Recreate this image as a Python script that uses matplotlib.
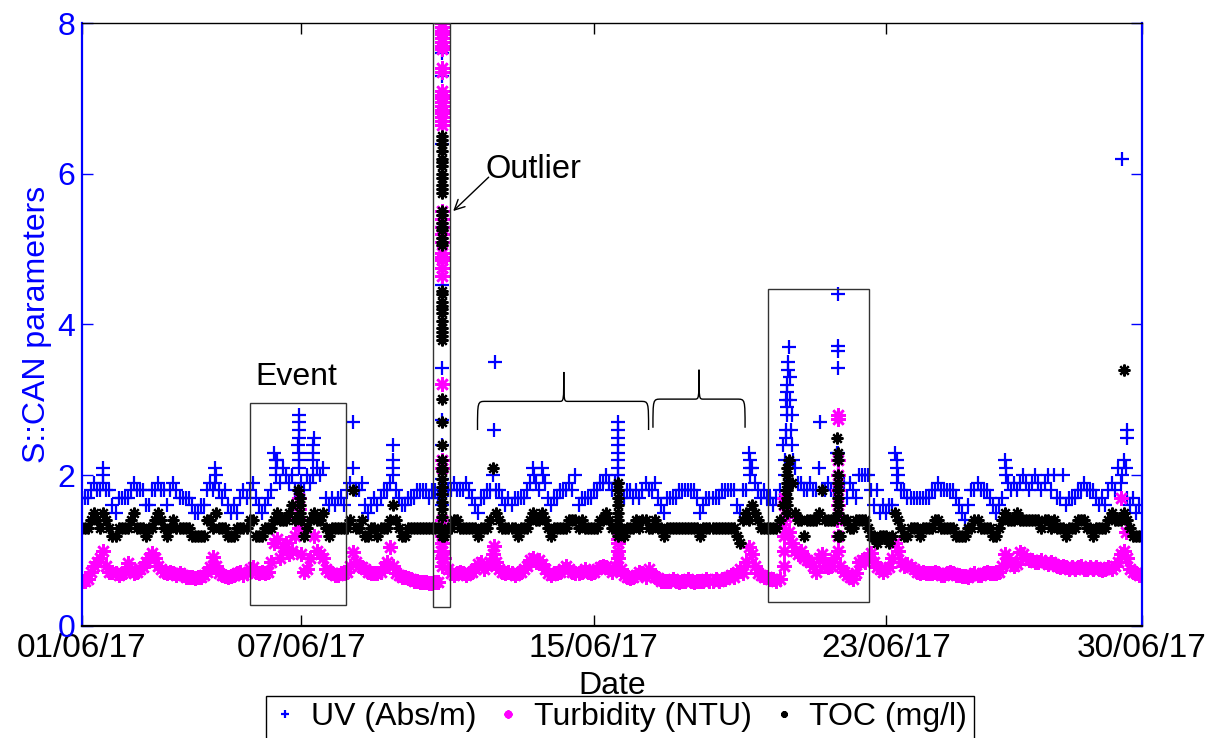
import numpy as np
import matplotlib
matplotlib.use('Agg')
import matplotlib.pyplot as plt
from matplotlib.path import Path
from matplotlib.patches import PathPatch, Rectangle

plt.rcParams['font.family'] = ['Liberation Sans', 'DejaVu Sans']

# samples every 2 hours from 01/06/17 00:00 (12 per day, one day per row)
samples_per_day = 12

uv = [
    1.7, 1.7, 1.7, 1.8, 1.9, 1.8, 1.8, 2.0, 1.8, 1.8, 1.6, 1.5,
    1.7, 1.7, 1.7, 1.7, 1.8, 1.9, 1.8, 1.8, 1.8, 1.6, 1.6, 1.8,
    1.8, 1.9, 1.8, 1.8, 1.6, 1.8, 1.9, 1.8, 1.7, 1.7, 1.7, 1.7,
    1.6, 1.5, 1.5, 1.6, 1.6, 1.8, 1.9, 1.8, 2.0, 1.8, 1.7, 1.8,
    1.6, 1.5, 1.6, 1.5, 1.7, 1.8, 1.7, 1.8, 1.9, 1.7, 1.6, 1.5,
    1.6, 1.7, 1.8, 2.3, 2.2, 1.9, 2.1, 2.0, 1.9, 2.0, 1.8, 2.4,
    1.9, 1.8, 2.0, 1.9, 2.5, 2.1, 2.0, 2.1, 1.7, 1.6, 1.7, 1.6,
    1.7, 1.7, 1.6, 1.8, 1.9, 2.1, 1.8, 1.8, 1.9, 1.6, 1.5, 1.6,
    1.7, 1.6, 1.7, 1.8, 1.8, 1.9, 2.4, 1.8, 1.7, 1.6, 1.6, 1.7,
    1.7, 1.7, 1.8, 1.8, 1.8, 1.8, 1.7, 1.8, 1.8, 1.7, 1.8, 1.8,
    1.8, 1.8, 1.9, 1.8, 1.8, 1.8, 1.9, 1.8, 1.7, 1.6, 1.5, 1.7,
    1.7, 1.8, 1.8, 2.0, 1.8, 1.8, 1.7, 1.6, 1.7, 1.6, 1.7, 1.7,
    1.7, 1.7, 1.8, 1.9, 2.1, 1.9, 1.8, 2.1, 1.9, 1.7, 1.6, 1.7,
    1.7, 1.8, 1.8, 1.8, 1.9, 1.8, 2.0, 1.6, 1.7, 1.7, 1.7, 1.7,
    1.8, 1.8, 1.9, 1.9, 2.0, 1.9, 1.8, 1.9, 2.7, 1.7, 1.7, 1.8,
    1.8, 1.7, 1.8, 1.7, 1.8, 1.9, 1.8, 1.8, 1.9, 1.7, 1.6, 1.5,
    1.7, 1.7, 1.7, 1.7, 1.8, 1.8, 1.8, 1.8, 1.8, 1.8, 1.7, 1.5,
    1.6, 1.7, 1.7, 1.7, 1.7, 1.7, 1.8, 1.8, 1.8, 1.8, 1.8, 1.6,
    1.5, 1.8, 1.8, 2.3, 2.1, 1.9, 1.8, 1.7, 1.8, 1.7, 1.7, 1.6,
    1.7, 1.8, 2.4, 3.0, 3.7, 2.8, 2.1, 1.9, 1.9, 1.8, 1.8, 1.9,
    1.8, 1.8, 2.1, 1.8, 1.8, 1.9, 1.8, 1.8, 2.3, 1.9, 1.9, 1.7,
    1.9, 1.8, 1.7, 2.0, 2.0, 2.0, 2.0, 1.8, 1.6, 1.8, 1.5, 1.6,
    1.5, 1.6, 1.6, 2.3, 2.0, 1.8, 1.8, 1.7, 1.7, 1.7, 1.7, 1.7,
    1.7, 1.7, 1.7, 1.8, 1.8, 1.9, 1.8, 1.8, 1.8, 1.8, 1.8, 1.7,
    1.6, 1.5, 1.4, 1.6, 1.8, 1.8, 1.9, 1.8, 1.8, 1.8, 1.7, 1.6,
    1.5, 1.6, 1.7, 2.2, 1.9, 1.8, 1.9, 1.8, 1.9, 2.0, 1.9, 1.8,
    1.9, 2.0, 1.9, 1.8, 1.9, 2.0, 1.8, 2.0, 1.7, 1.7, 2.0, 1.6,
    1.7, 1.7, 1.7, 1.8, 1.8, 1.9, 1.8, 1.8, 1.8, 1.7, 1.6, 1.7,
    1.6, 1.8, 1.9, 1.8, 2.1, 1.9, 2.2, 1.7, 1.6, 1.7, 1.5, 1.6,
]

turbidity = [
    0.60, 0.60, 0.62, 0.72, 0.80, 0.85, 0.90, 1.00, 0.80, 0.72, 0.72, 0.70,
    0.68, 0.70, 0.72, 0.83, 0.75, 0.70, 0.72, 0.75, 0.78, 0.85, 0.90, 0.97,
    0.90, 0.80, 0.75, 0.72, 0.70, 0.72, 0.70, 0.68, 0.70, 0.68, 0.65, 0.65,
    0.65, 0.63, 0.65, 0.65, 0.68, 0.72, 0.78, 0.92, 0.80, 0.70, 0.68, 0.66,
    0.65, 0.66, 0.68, 0.70, 0.72, 0.68, 0.70, 0.75, 0.78, 0.72, 0.70, 0.72,
    0.70, 0.72, 0.85, 1.10, 1.15, 0.90, 1.05, 1.10, 0.95, 1.00, 1.20, 1.45,
    0.95, 0.72, 0.75, 0.90, 1.20, 1.00, 0.95, 0.90, 0.75, 0.72, 0.70, 0.68,
    0.68, 0.70, 0.70, 0.72, 0.80, 0.98, 0.85, 0.80, 0.78, 0.75, 0.72, 0.70,
    0.70, 0.70, 0.72, 0.78, 0.85, 1.05, 0.80, 0.70, 0.68, 0.65, 0.65, 0.63,
    0.62, 0.60, 0.60, 0.58, 0.58, 0.58, 0.57, 0.57, 0.58, 0.58, 1.00, 0.90,
    0.75, 0.70, 0.68, 0.70, 0.72, 0.70, 0.68, 0.70, 0.72, 0.75, 0.82, 0.85,
    0.75, 0.80, 0.85, 0.95, 0.85, 0.75, 0.72, 0.70, 0.72, 0.70, 0.68, 0.70,
    0.72, 0.75, 0.80, 0.88, 0.90, 0.85, 0.88, 0.82, 0.75, 0.70, 0.68, 0.70,
    0.70, 0.72, 0.75, 0.80, 0.75, 0.72, 0.70, 0.70, 0.72, 0.75, 0.72, 0.70,
    0.72, 0.75, 0.78, 0.80, 0.78, 0.75, 0.72, 0.80, 1.15, 0.75, 0.68, 0.65,
    0.63, 0.65, 0.68, 0.72, 0.70, 0.65, 0.75, 0.68, 0.65, 0.63, 0.60, 0.60,
    0.60, 0.60, 0.62, 0.60, 0.58, 0.60, 0.60, 0.62, 0.60, 0.58, 0.60, 0.60,
    0.60, 0.62, 0.60, 0.60, 0.62, 0.60, 0.62, 0.62, 0.65, 0.68, 0.65, 0.72,
    0.75, 0.70, 0.85, 1.05, 0.95, 0.80, 0.70, 0.68, 0.65, 0.65, 0.62, 0.62,
    0.60, 0.62, 1.35, 1.45, 1.25, 1.10, 1.00, 0.95, 1.00, 0.90, 0.88, 0.85,
    0.80, 0.72, 0.90, 0.95, 0.80, 0.78, 0.80, 0.90, 1.40, 0.80, 0.72, 0.68,
    0.65, 0.62, 0.70, 0.85, 0.88, 0.85, 0.92, 0.97, 0.85, 0.78, 0.75, 0.72,
    0.75, 0.78, 0.90, 1.10, 1.00, 0.85, 0.80, 0.82, 0.78, 0.75, 0.72, 0.70,
    0.72, 0.70, 0.70, 0.70, 0.72, 0.70, 0.68, 0.68, 0.70, 0.72, 0.70, 0.68,
    0.68, 0.66, 0.66, 0.65, 0.68, 0.70, 0.68, 0.68, 0.70, 0.72, 0.70, 0.70,
    0.70, 0.72, 0.80, 0.95, 0.90, 0.82, 0.80, 0.82, 0.98, 0.95, 0.90, 0.88,
    0.88, 0.85, 0.85, 0.88, 0.85, 0.82, 0.85, 0.82, 0.80, 0.78, 0.80, 0.78,
    0.76, 0.78, 0.75, 0.78, 0.80, 0.76, 0.75, 0.78, 0.76, 0.78, 0.75, 0.74,
    0.75, 0.78, 0.76, 0.80, 0.85, 0.95, 1.00, 0.90, 0.75, 0.72, 0.70, 0.68,
]

toc = [
    1.3, 1.3, 1.3, 1.4, 1.5, 1.4, 1.3, 1.5, 1.4, 1.3, 1.2, 1.2,
    1.3, 1.3, 1.3, 1.3, 1.4, 1.5, 1.3, 1.3, 1.3, 1.2, 1.3, 1.3,
    1.4, 1.5, 1.4, 1.3, 1.2, 1.3, 1.4, 1.3, 1.3, 1.3, 1.3, 1.3,
    1.2, 1.2, 1.2, 1.2, 1.2, 1.4, 1.4, 1.3, 1.5, 1.3, 1.3, 1.3,
    1.2, 1.2, 1.2, 1.3, 1.3, 1.3, 1.3, 1.4, 1.4, 1.2, 1.2, 1.2,
    1.3, 1.3, 1.3, 1.4, 1.5, 1.4, 1.4, 1.4, 1.5, 1.6, 1.4, 1.8,
    1.4, 1.2, 1.3, 1.4, 1.5, 1.4, 1.4, 1.5, 1.3, 1.2, 1.3, 1.3,
    1.3, 1.3, 1.3, 1.3, 1.4, 1.8, 1.3, 1.3, 1.4, 1.2, 1.2, 1.3,
    1.3, 1.2, 1.3, 1.3, 1.3, 1.4, 1.6, 1.4, 1.3, 1.2, 1.2, 1.3,
    1.3, 1.3, 1.3, 1.3, 1.3, 1.3, 1.3, 1.3, 1.3, 1.3, 1.3, 1.2,
    1.3, 1.3, 1.4, 1.4, 1.3, 1.3, 1.3, 1.3, 1.3, 1.3, 1.2, 1.3,
    1.3, 1.3, 1.4, 2.1, 1.5, 1.4, 1.3, 1.3, 1.3, 1.3, 1.3, 1.2,
    1.3, 1.3, 1.3, 1.4, 1.5, 1.4, 1.4, 1.5, 1.4, 1.3, 1.2, 1.3,
    1.3, 1.3, 1.3, 1.3, 1.4, 1.4, 1.4, 1.3, 1.4, 1.3, 1.3, 1.3,
    1.3, 1.3, 1.4, 1.4, 1.5, 1.4, 1.3, 1.3, 1.9, 1.3, 1.2, 1.3,
    1.3, 1.3, 1.4, 1.3, 1.4, 1.4, 1.3, 1.3, 1.4, 1.3, 1.3, 1.2,
    1.3, 1.3, 1.3, 1.3, 1.3, 1.3, 1.3, 1.3, 1.3, 1.3, 1.3, 1.2,
    1.3, 1.3, 1.3, 1.3, 1.3, 1.3, 1.3, 1.3, 1.3, 1.3, 1.3, 1.2,
    1.1, 1.4, 1.5, 1.4, 1.6, 1.5, 1.4, 1.3, 1.3, 1.3, 1.3, 1.3,
    1.3, 1.4, 1.6, 1.8, 2.2, 1.9, 1.5, 1.4, 1.4, 1.2, 1.4, 1.4,
    1.4, 1.4, 1.5, 1.8, 1.4, 1.4, 1.4, 1.4, 2.5, 1.2, 1.4, 1.4,
    1.3, 1.3, 1.4, 1.4, 1.4, 1.4, 1.3, 1.2, 1.2, 1.1, 1.2, 1.2,
    1.2, 1.1, 1.2, 1.5, 1.4, 1.3, 1.2, 1.2, 1.3, 1.3, 1.3, 1.2,
    1.3, 1.3, 1.3, 1.3, 1.4, 1.4, 1.3, 1.3, 1.3, 1.3, 1.3, 1.2,
    1.2, 1.2, 1.2, 1.3, 1.3, 1.4, 1.4, 1.3, 1.3, 1.3, 1.3, 1.2,
    1.2, 1.3, 1.4, 1.5, 1.4, 1.4, 1.4, 1.5, 1.4, 1.4, 1.4, 1.4,
    1.4, 1.4, 1.4, 1.3, 1.4, 1.4, 1.3, 1.4, 1.3, 1.3, 1.3, 1.2,
    1.3, 1.3, 1.3, 1.4, 1.4, 1.4, 1.3, 1.3, 1.2, 1.3, 1.3, 1.3,
    1.3, 1.4, 1.5, 1.4, 1.4, 1.4, 1.5, 1.4, 1.3, 1.2, 1.2, 1.2,
]

# short fast readings between the 2-hour samples (day, value)
uv_extra_day = [0.58, 0.58, 3.64, 3.64, 5.3, 5.3, 5.3,
                5.93, 5.93, 5.93, 5.93, 5.93, 5.93, 5.93,
                6.33, 6.33, 6.33, 6.33, 7.42, 8.5, 8.5, 8.5,
                11.27, 11.29, 12.37, 12.6,
                14.67, 14.67, 14.67, 14.67, 14.67, 14.67, 14.67, 14.67,
                18.28, 18.28, 18.28,
                19.22, 19.22, 19.25, 19.25, 19.28, 19.28, 19.30, 19.30,
                19.32, 19.32, 19.36, 19.38, 19.40, 19.42, 19.44,
                20.2, 20.67, 20.67, 20.67, 20.67, 20.67, 20.67, 20.67,
                22.3, 22.3, 22.3, 25.28, 25.28,
                28.44, 28.58, 28.60, 28.55, 28.45]
uv_extra_val = [2.1, 1.9, 2.1, 1.9, 2.2, 2.1, 2.0,
                2.8, 2.7, 2.6, 2.5, 2.3, 2.2, 2.1,
                2.4, 2.3, 2.2, 2.0, 2.7, 2.2, 2.1, 2.0,
                2.6, 3.5, 2.0, 2.0,
                2.6, 2.5, 2.4, 2.3, 2.2, 2.1, 2.0, 1.9,
                2.2, 2.1, 2.0,
                2.0, 2.2, 2.5, 2.6, 2.8, 2.9, 3.1, 3.2,
                3.4, 3.5, 3.3, 3.0, 2.6, 2.4, 2.2,
                2.7, 4.4, 3.72, 3.65, 3.42, 2.3, 2.2, 2.0,
                2.2, 2.1, 1.9, 2.1, 2.0,
                6.2, 2.6, 2.5, 2.1, 2.0]

turb_extra_day = [5.93, 5.93, 5.93, 11.27, 14.67, 14.67, 14.67,
                  19.2, 19.2, 19.2, 19.2, 19.2,
                  20.67, 20.67, 20.67, 20.67, 20.67, 20.67, 20.67, 20.67,
                  28.42, 28.55]
turb_extra_val = [1.3, 1.55, 1.7, 1.06, 0.9, 1.0, 1.1,
                  0.8, 1.0, 1.2, 1.6, 1.7,
                  2.8, 2.75, 2.2, 2.0, 1.8, 1.6, 1.2, 1.0,
                  1.7, 1.25]

toc_extra_day = [5.95, 5.95, 5.95,
                 14.67, 14.67, 14.67, 14.67, 14.67, 14.67,
                 19.3, 19.3, 19.3, 19.3, 19.3, 19.3, 19.3,
                 20.67, 20.67, 20.67, 20.67, 20.67, 20.67, 20.67, 20.67, 20.67,
                 28.5]
toc_extra_val = [1.5, 1.6, 1.7,
                 1.8, 1.7, 1.6, 1.5, 1.4, 1.2,
                 1.5, 1.6, 1.7, 1.8, 1.9, 2.0, 2.1,
                 2.3, 2.2, 2.0, 1.9, 1.8, 1.7, 1.6, 1.5, 1.2,
                 3.4]

# outlier burst on 10/06
outlier_day = 9.85
outlier_uv = [7.9, 7.6, 7.3, 6.4, 5.3, 4.53, 3.42, 2.73, 2.4, 1.95, 1.75, 1.6]
outlier_turb = [8.0, 7.95, 7.9, 7.85, 7.8, 7.75, 7.7, 7.65, 7.4, 7.35,
                7.1, 7.05, 7.0, 6.95, 6.9, 6.85, 6.8, 6.75, 6.7, 6.65,
                5.5, 5.4, 5.3, 5.2, 5.1, 4.95, 4.9, 4.85, 4.75, 4.65,
                3.21, 2.2, 2.1, 1.4, 1.2, 1.1, 1.0, 0.9, 0.8]
outlier_toc = [6.5, 6.45, 6.4, 6.3, 6.2, 6.15, 6.1, 6.0, 5.95, 5.85, 5.8, 5.75,
               5.5, 5.45, 5.35, 5.3, 5.25, 5.15, 5.1, 5.05,
               4.45, 4.4, 4.3, 4.25, 4.2, 4.15, 4.05, 3.95, 3.9, 3.85, 3.8,
               3.01, 2.7, 2.4, 2.2, 2.1, 2.05, 1.95, 1.85, 1.75, 1.65, 1.55, 1.45, 1.2]

tick_days = [0, 6, 14, 22, 29]
tick_labels = ['01/06/17', '07/06/17', '15/06/17', '23/06/17', '30/06/17']

# ---------------------------------------------------------------
t = np.arange(len(uv)) / samples_per_day

fig = plt.figure(figsize=(12.1, 7.38), dpi=100)
ax = fig.add_axes([0.0678, 0.1518, 0.876, 0.817])

blue = '#0000ff'
mag = '#ff00ff'
star = (8, 2, 0)

uv_t = np.concatenate([t, uv_extra_day, [outlier_day] * len(outlier_uv)])
uv_v = np.concatenate([uv, uv_extra_val, outlier_uv])
tu_t = np.concatenate([t, turb_extra_day, [outlier_day] * len(outlier_turb)])
tu_v = np.concatenate([turbidity, turb_extra_val, outlier_turb])
to_t = np.concatenate([t, toc_extra_day, [outlier_day] * len(outlier_toc)])
to_v = np.concatenate([toc, toc_extra_val, outlier_toc])

ax.plot(uv_t, uv_v, ls='none', marker='+', ms=10, mew=1.6, color=blue, label='UV (Abs/m)')
ax.plot(tu_t, tu_v, ls='none', marker=star, ms=10.5, mew=1.8, color=mag, label='Turbidity (NTU)')
ax.plot(to_t, to_v, ls='none', marker=star, ms=8.5, mew=1.6, color='black', label='TOC (mg/l)')

ax.set_xlim(0, 29)
ax.set_ylim(0, 8)

# annotation boxes
box_col = '#333333'
for x0, x1, y0, y1 in [(4.6, 7.23, 0.28, 2.96), (9.59, 10.08, 0.25, 8.0), (18.77, 21.53, 0.32, 4.47)]:
    ax.add_patch(Rectangle((x0, y0), x1 - x0, y1 - y0, fill=False, ec=box_col, lw=1.0, zorder=5))


def brace(x0, x1, xc, y_end, y_h, y_peak):
    r = 0.22
    rc = 0.12
    verts = [(x0, y_end), (x0, y_h), (x0, y_h), (x0 + r, y_h),
             (xc - rc, y_h),
             (xc, y_h), (xc, y_h), (xc, y_peak),
             (xc, y_h), (xc, y_h), (xc + rc, y_h),
             (x1 - r, y_h),
             (x1, y_h), (x1, y_h), (x1, y_end)]
    codes = [Path.MOVETO, Path.CURVE4, Path.CURVE4, Path.CURVE4,
             Path.LINETO,
             Path.CURVE4, Path.CURVE4, Path.CURVE4,
             Path.CURVE4, Path.CURVE4, Path.CURVE4,
             Path.LINETO,
             Path.CURVE4, Path.CURVE4, Path.CURVE4]
    ax.add_patch(PathPatch(Path(verts, codes), fill=False, ec='black', lw=1.0, zorder=5))


brace(10.82, 15.5, 13.18, 2.6, 2.98, 3.37)
brace(15.62, 18.14, 16.88, 2.63, 3.01, 3.40)

ax.text(4.74, 3.20, 'Event', fontsize=23, ha='left', va='baseline')
ax.text(11.04, 5.95, 'Outlier', fontsize=23.5, ha='left', va='baseline')
ax.annotate('', xy=(10.1, 5.48), xytext=(11.18, 5.98),
            arrowprops=dict(arrowstyle='->', lw=1.0, color='black', mutation_scale=18))

# axes styling (MATLAB plotyy look)
ax.set_xticks(tick_days)
ax.set_xticklabels(tick_labels)
ax.set_yticks([0, 2, 4, 6, 8])
ax.tick_params(axis='both', direction='in', length=8, width=1.0, labelsize=23,
               top=True, right=True)
ax.tick_params(axis='x', pad=5, labelsize=24)
ax.tick_params(axis='y', colors=blue, labelcolor=blue, pad=5)
ax.spines['left'].set_color(blue)
ax.spines['right'].set_color(blue)
ax.spines['left'].set_linewidth(1.6)
ax.spines['right'].set_linewidth(1.6)
ax.spines['bottom'].set_linewidth(1.6)
ax.spines['top'].set_linewidth(1.0)

ax.set_xlabel('Date', fontsize=23, labelpad=5)
ax.set_ylabel('S::CAN parameters', fontsize=23, color=blue, labelpad=4)

fig.legend(loc='upper center', bbox_to_anchor=(620 / 1210, 1 - 696 / 738),
           ncol=3, fontsize=23, frameon=True, fancybox=False, edgecolor='black',
           markerscale=0.55, handlelength=0.8, handletextpad=0.4,
           columnspacing=0.6, borderpad=0.2, borderaxespad=0, framealpha=1)

fig.savefig('out.png', dpi=100)
